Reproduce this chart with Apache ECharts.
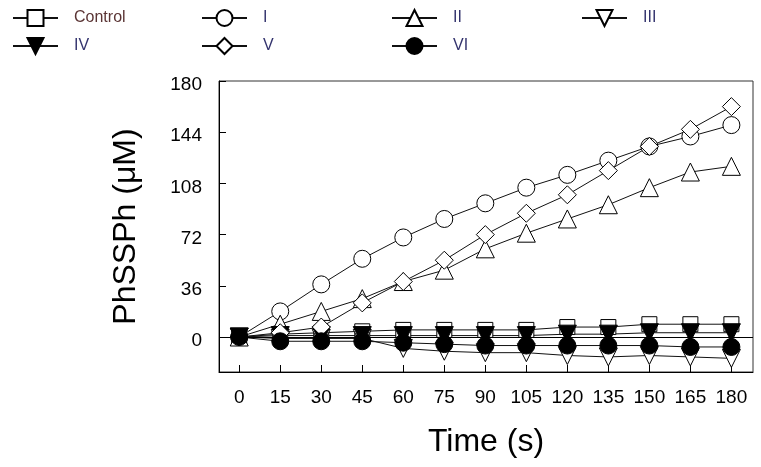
<!DOCTYPE html>
<html>
<head>
<meta charset="utf-8">
<script src="https://cdn.jsdelivr.net/npm/echarts@6/dist/echarts.min.js"></script>
<style>html,body{margin:0;padding:0;background:#fff}#c{width:761px;height:467px}</style>
</head>
<body>
<div id="c"></div>
<script>
var times = [0, 15, 30, 45, 60, 75, 90, 105, 120, 135, 150, 165, 180];
var xTicks = [0, 15, 30, 45, 60, 75, 90, 105, 120, 135, 150, 165, 180];
var yTicks = [0, 36, 72, 108, 144, 180];
var control = [0, 2, 3, 4, 5, 5, 5, 5, 7, 7, 9, 9, 9];
var s1 = [0, 18, 37, 55, 70, 83, 94, 105, 114, 124, 134, 141, 149];
var s2 = [0, 9, 18, 27, 39, 47, 62, 73, 83, 93, 105, 116, 120];
var s3 = [0, -1, -1, -1, -8, -10, -11, -11, -13, -14, -13, -14, -15];
var s4 = [0, 1, 1, 1, 1, 1, 1, 1, 2, 2, 3, 3, 3];
var s5 = [0, 3, 7, 24, 39, 54, 72, 87, 100, 117, 134, 146, 162];
var s6 = [0, -3, -3, -3, -4, -5, -6, -6, -6, -6, -6, -7, -7];
var names = ['Control', 'I', 'II', 'III', 'IV', 'V', 'VI'];

function pairs(v) { return times.map(function (t, i) { return [t, v[i]]; }); }

function ser(name, data, symbol, size, filled, rotate) {
  return {
    name: name, type: 'line', data: pairs(data),
    symbol: symbol, symbolSize: size, symbolRotate: rotate || 0, showSymbol: true,
    lineStyle: { color: '#111', width: 1 },
    itemStyle: { color: filled ? '#000' : '#fff', borderColor: '#000', borderWidth: 1 },
    emphasis: { disabled: true }, animation: false
  };
}

var series = [
  ser('Control', control, 'rect', 15, false),
  ser('I', s1, 'circle', 17, false),
  ser('II', s2, 'triangle', 18, false),
  ser('III', s3, 'triangle', 18, false, 180),
  ser('IV', s4, 'triangle', 18, true, 180),
  ser('V', s5, 'diamond', 18, false),
  ser('VI', s6, 'circle', 17, true)
];
series[0].markLine = {
  silent: true, symbol: 'none', label: { show: false },
  lineStyle: { color: '#000', width: 1, type: 'solid' },
  data: [{ yAxis: 0 }], animation: false
};

var legPos = [[12, 9], [201, 9], [391, 9], [581, 9], [12, 37], [201, 37], [391, 37]];
var legends = names.map(function (n, i) {
  return {
    data: [n], left: legPos[i][0], top: legPos[i][1], padding: 0,
    itemWidth: 45, itemHeight: 20, selectedMode: false,
    textStyle: { fontFamily: 'Liberation Sans', fontSize: 16, color: i === 0 ? '#5a3434' : '#34346e', padding: [0, 0, 0, 11] }
  };
});

var chart = echarts.init(document.getElementById('c'));
chart.setOption({
  backgroundColor: '#fff',
  animation: false,
  legend: legends,
  grid: { left: 219, right: 8, top: 81, bottom: 95, show: true, borderColor: '#333', borderWidth: 1, backgroundColor: 'transparent' },
  xAxis: {
    type: 'value', min: -7.4, max: 187.9,
    name: 'Time (s)', nameLocation: 'middle', nameGap: 54,
    nameTextStyle: { fontFamily: 'Liberation Sans', fontSize: 32, color: '#000' },
    axisLine: { show: true, onZero: false, lineStyle: { color: '#000', width: 1 } },
    axisTick: { show: true, inside: true, length: 7, customValues: xTicks, lineStyle: { color: '#000' } },
    axisLabel: { customValues: xTicks, margin: 16, fontFamily: 'Liberation Sans', fontSize: 19, color: '#000' },
    splitLine: { show: false }
  },
  yAxis: {
    type: 'value', min: -24.6, max: 180,
    name: 'PhSSPh (μM)', nameLocation: 'middle', nameGap: 77, nameRotate: 90,
    nameTextStyle: { fontFamily: 'Liberation Sans', fontSize: 32, color: '#000' },
    axisLine: { show: true, onZero: false, lineStyle: { color: '#000', width: 1 } },
    axisTick: { show: true, inside: true, length: 7, customValues: yTicks, lineStyle: { color: '#000' } },
    axisLabel: { customValues: yTicks, margin: 17, fontFamily: 'Liberation Sans', fontSize: 19, color: '#000', verticalAlign: 'top', lineHeight: 8 },
    splitLine: { show: false }
  },
  series: series
});
</script>
</body>
</html>
